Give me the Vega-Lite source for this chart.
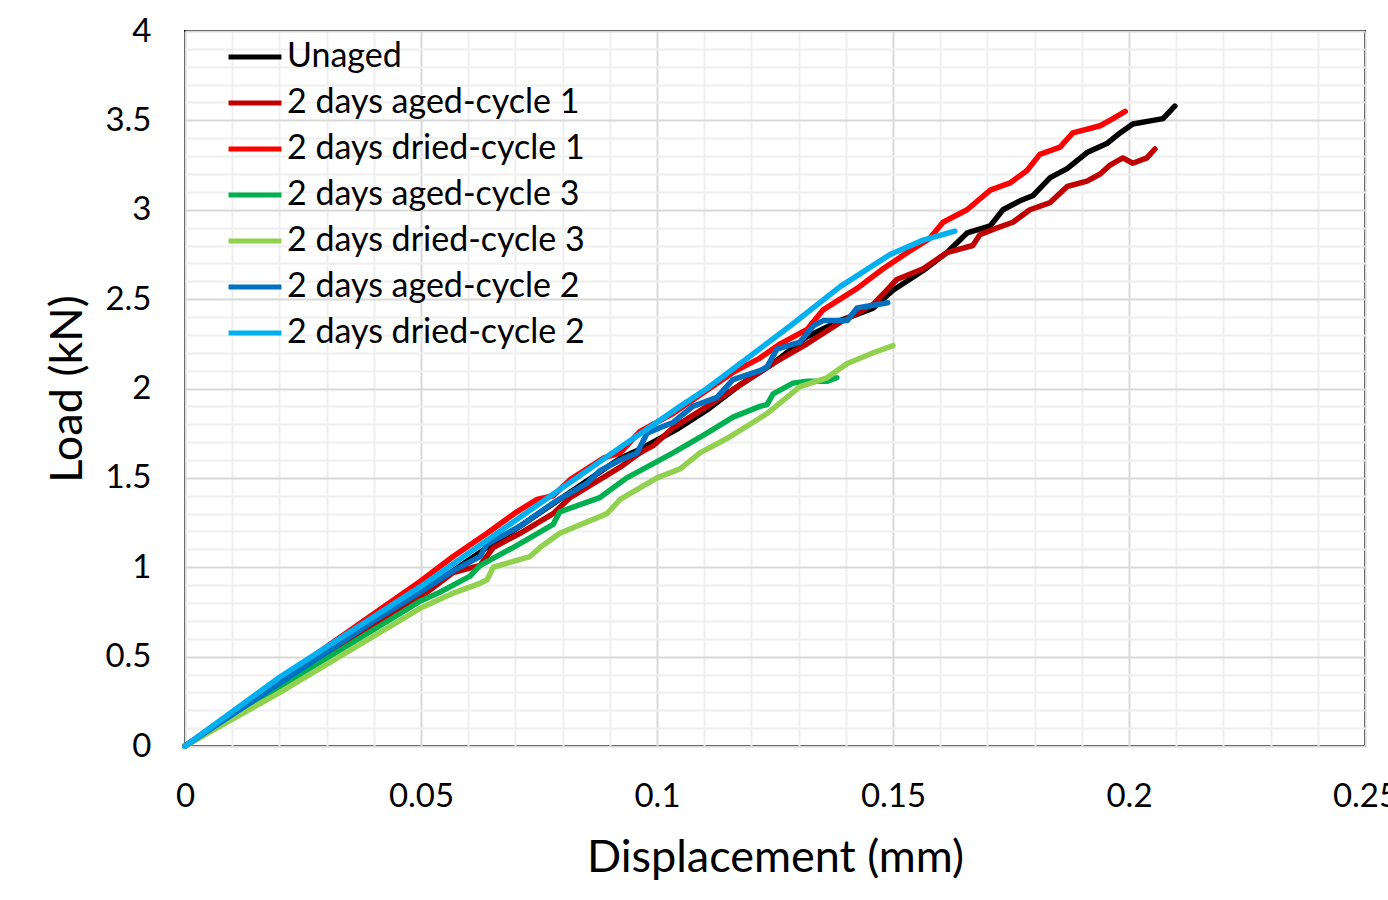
{
  "$schema": "https://vega.github.io/schema/vega-lite/v6.json",
  "width": 1180,
  "height": 715,
  "autosize": {"type": "none"},
  "padding": {"left": 185, "top": 31, "right": 23, "bottom": 154},
  "background": "white",
  "config": {
    "view": {"stroke": "#000000", "strokeWidth": 2},
    "font": "Lato",
    "axis": {"labelFont": "Lato", "titleFont": "Lato", "labelColor": "#000", "titleColor": "#000", "titleFontWeight": "normal"},
    "legend": {"labelFont": "Lato"}
  },
  "data": {"values": [
    {"series":"Unaged","disp":0,"load":0},{"series":"Unaged","disp":0.040,"load":0.69},{"series":"Unaged","disp":0.0498,"load":0.86},{"series":"Unaged","disp":0.0568,"load":0.98},{"series":"Unaged","disp":0.0640,"load":1.11},{"series":"Unaged","disp":0.0710,"load":1.23},{"series":"Unaged","disp":0.0816,"load":1.42},{"series":"Unaged","disp":0.0922,"load":1.61},{"series":"Unaged","disp":0.0964,"load":1.66},{"series":"Unaged","disp":0.1041,"load":1.77},{"series":"Unaged","disp":0.1106,"load":1.88},{"series":"Unaged","disp":0.1176,"load":2.02},{"series":"Unaged","disp":0.1246,"load":2.14},{"series":"Unaged","disp":0.1318,"load":2.29},{"series":"Unaged","disp":0.1388,"load":2.38},{"series":"Unaged","disp":0.1458,"load":2.45},{"series":"Unaged","disp":0.1500,"load":2.55},{"series":"Unaged","disp":0.1564,"load":2.66},{"series":"Unaged","disp":0.1614,"load":2.76},{"series":"Unaged","disp":0.1657,"load":2.87},{"series":"Unaged","disp":0.1706,"load":2.91},{"series":"Unaged","disp":0.1733,"load":3.00},{"series":"Unaged","disp":0.1769,"load":3.05},{"series":"Unaged","disp":0.1797,"load":3.08},{"series":"Unaged","disp":0.1833,"load":3.18},{"series":"Unaged","disp":0.1869,"load":3.23},{"series":"Unaged","disp":0.1911,"load":3.32},{"series":"Unaged","disp":0.1953,"load":3.37},{"series":"Unaged","disp":0.1981,"load":3.43},{"series":"Unaged","disp":0.2008,"load":3.48},{"series":"Unaged","disp":0.2051,"load":3.50},{"series":"Unaged","disp":0.2072,"load":3.51},{"series":"Unaged","disp":0.2097,"load":3.58},

    {"series":"2 days aged-cycle 1","disp":0,"load":0},{"series":"2 days aged-cycle 1","disp":0.040,"load":0.67},{"series":"2 days aged-cycle 1","disp":0.0498,"load":0.83},{"series":"2 days aged-cycle 1","disp":0.0568,"load":0.97},{"series":"2 days aged-cycle 1","disp":0.0625,"load":1.01},{"series":"2 days aged-cycle 1","disp":0.0653,"load":1.11},{"series":"2 days aged-cycle 1","disp":0.0710,"load":1.19},{"series":"2 days aged-cycle 1","disp":0.0780,"load":1.30},{"series":"2 days aged-cycle 1","disp":0.0816,"load":1.39},{"series":"2 days aged-cycle 1","disp":0.0922,"load":1.56},{"series":"2 days aged-cycle 1","disp":0.0964,"load":1.64},{"series":"2 days aged-cycle 1","disp":0.0992,"load":1.68},{"series":"2 days aged-cycle 1","disp":0.1034,"load":1.78},{"series":"2 days aged-cycle 1","disp":0.1106,"load":1.90},{"series":"2 days aged-cycle 1","disp":0.1176,"load":2.02},{"series":"2 days aged-cycle 1","disp":0.1246,"load":2.14},{"series":"2 days aged-cycle 1","disp":0.1318,"load":2.25},{"series":"2 days aged-cycle 1","disp":0.1388,"load":2.37},{"series":"2 days aged-cycle 1","disp":0.1458,"load":2.47},{"series":"2 days aged-cycle 1","disp":0.1494,"load":2.57},{"series":"2 days aged-cycle 1","disp":0.1508,"load":2.61},{"series":"2 days aged-cycle 1","disp":0.1564,"load":2.67},{"series":"2 days aged-cycle 1","disp":0.1614,"load":2.76},{"series":"2 days aged-cycle 1","disp":0.1669,"load":2.80},{"series":"2 days aged-cycle 1","disp":0.1684,"load":2.86},{"series":"2 days aged-cycle 1","disp":0.1712,"load":2.89},{"series":"2 days aged-cycle 1","disp":0.1754,"load":2.93},{"series":"2 days aged-cycle 1","disp":0.1790,"load":3.00},{"series":"2 days aged-cycle 1","disp":0.1833,"load":3.04},{"series":"2 days aged-cycle 1","disp":0.1869,"load":3.13},{"series":"2 days aged-cycle 1","disp":0.1911,"load":3.16},{"series":"2 days aged-cycle 1","disp":0.1939,"load":3.20},{"series":"2 days aged-cycle 1","disp":0.1960,"load":3.25},{"series":"2 days aged-cycle 1","disp":0.1987,"load":3.29},{"series":"2 days aged-cycle 1","disp":0.2008,"load":3.26},{"series":"2 days aged-cycle 1","disp":0.2038,"load":3.29},{"series":"2 days aged-cycle 1","disp":0.2055,"load":3.34},

    {"series":"2 days dried-cycle 1","disp":0,"load":0},{"series":"2 days dried-cycle 1","disp":0.040,"load":0.74},{"series":"2 days dried-cycle 1","disp":0.0498,"load":0.92},{"series":"2 days dried-cycle 1","disp":0.0568,"load":1.06},{"series":"2 days dried-cycle 1","disp":0.0640,"load":1.19},{"series":"2 days dried-cycle 1","disp":0.0703,"load":1.31},{"series":"2 days dried-cycle 1","disp":0.0746,"load":1.38},{"series":"2 days dried-cycle 1","disp":0.0780,"load":1.40},{"series":"2 days dried-cycle 1","disp":0.0816,"load":1.49},{"series":"2 days dried-cycle 1","disp":0.0886,"load":1.61},{"series":"2 days dried-cycle 1","disp":0.0922,"load":1.64},{"series":"2 days dried-cycle 1","disp":0.0964,"load":1.76},{"series":"2 days dried-cycle 1","disp":0.1034,"load":1.86},{"series":"2 days dried-cycle 1","disp":0.1106,"load":1.99},{"series":"2 days dried-cycle 1","disp":0.1161,"load":2.09},{"series":"2 days dried-cycle 1","disp":0.1218,"load":2.17},{"series":"2 days dried-cycle 1","disp":0.1261,"load":2.25},{"series":"2 days dried-cycle 1","disp":0.1318,"load":2.33},{"series":"2 days dried-cycle 1","disp":0.1352,"load":2.44},{"series":"2 days dried-cycle 1","disp":0.1424,"load":2.56},{"series":"2 days dried-cycle 1","disp":0.1479,"load":2.67},{"series":"2 days dried-cycle 1","disp":0.1530,"load":2.76},{"series":"2 days dried-cycle 1","disp":0.1578,"load":2.84},{"series":"2 days dried-cycle 1","disp":0.1606,"load":2.93},{"series":"2 days dried-cycle 1","disp":0.1657,"load":3.00},{"series":"2 days dried-cycle 1","disp":0.1706,"load":3.11},{"series":"2 days dried-cycle 1","disp":0.1748,"load":3.15},{"series":"2 days dried-cycle 1","disp":0.1784,"load":3.22},{"series":"2 days dried-cycle 1","disp":0.1811,"load":3.31},{"series":"2 days dried-cycle 1","disp":0.1854,"load":3.35},{"series":"2 days dried-cycle 1","disp":0.1881,"load":3.43},{"series":"2 days dried-cycle 1","disp":0.1939,"load":3.47},{"series":"2 days dried-cycle 1","disp":0.1966,"load":3.51},{"series":"2 days dried-cycle 1","disp":0.1992,"load":3.55},

    {"series":"2 days aged-cycle 3","disp":0,"load":0},{"series":"2 days aged-cycle 3","disp":0.0201,"load":0.33},{"series":"2 days aged-cycle 3","disp":0.0449,"load":0.73},{"series":"2 days aged-cycle 3","disp":0.0498,"load":0.81},{"series":"2 days aged-cycle 3","disp":0.0540,"load":0.86},{"series":"2 days aged-cycle 3","disp":0.0604,"load":0.95},{"series":"2 days aged-cycle 3","disp":0.0625,"load":1.01},{"series":"2 days aged-cycle 3","disp":0.0695,"load":1.11},{"series":"2 days aged-cycle 3","disp":0.0780,"load":1.24},{"series":"2 days aged-cycle 3","disp":0.0794,"load":1.31},{"series":"2 days aged-cycle 3","disp":0.0879,"load":1.39},{"series":"2 days aged-cycle 3","disp":0.0936,"load":1.50},{"series":"2 days aged-cycle 3","disp":0.0992,"load":1.58},{"series":"2 days aged-cycle 3","disp":0.1034,"load":1.64},{"series":"2 days aged-cycle 3","disp":0.1106,"load":1.75},{"series":"2 days aged-cycle 3","disp":0.1161,"load":1.84},{"series":"2 days aged-cycle 3","disp":0.1218,"load":1.90},{"series":"2 days aged-cycle 3","disp":0.1233,"load":1.91},{"series":"2 days aged-cycle 3","disp":0.1246,"load":1.97},{"series":"2 days aged-cycle 3","disp":0.1288,"load":2.03},{"series":"2 days aged-cycle 3","disp":0.1318,"load":2.04},{"series":"2 days aged-cycle 3","disp":0.1360,"load":2.04},{"series":"2 days aged-cycle 3","disp":0.1381,"load":2.06},

    {"series":"2 days dried-cycle 3","disp":0,"load":0},{"series":"2 days dried-cycle 3","disp":0.0201,"load":0.30},{"series":"2 days dried-cycle 3","disp":0.0498,"load":0.77},{"series":"2 days dried-cycle 3","disp":0.0568,"load":0.855},{"series":"2 days dried-cycle 3","disp":0.0625,"load":0.91},{"series":"2 days dried-cycle 3","disp":0.0640,"load":0.93},{"series":"2 days dried-cycle 3","disp":0.0653,"load":1.00},{"series":"2 days dried-cycle 3","disp":0.0731,"load":1.06},{"series":"2 days dried-cycle 3","disp":0.0752,"load":1.11},{"series":"2 days dried-cycle 3","disp":0.0794,"load":1.19},{"series":"2 days dried-cycle 3","disp":0.0894,"load":1.30},{"series":"2 days dried-cycle 3","disp":0.0922,"load":1.38},{"series":"2 days dried-cycle 3","disp":0.1000,"load":1.50},{"series":"2 days dried-cycle 3","disp":0.1049,"load":1.55},{"series":"2 days dried-cycle 3","disp":0.1091,"load":1.64},{"series":"2 days dried-cycle 3","disp":0.1148,"load":1.72},{"series":"2 days dried-cycle 3","disp":0.1203,"load":1.81},{"series":"2 days dried-cycle 3","disp":0.1233,"load":1.86},{"series":"2 days dried-cycle 3","disp":0.1275,"load":1.95},{"series":"2 days dried-cycle 3","disp":0.1303,"load":2.01},{"series":"2 days dried-cycle 3","disp":0.1360,"load":2.06},{"series":"2 days dried-cycle 3","disp":0.1403,"load":2.14},{"series":"2 days dried-cycle 3","disp":0.1458,"load":2.20},{"series":"2 days dried-cycle 3","disp":0.1500,"load":2.24},

    {"series":"2 days aged-cycle 2","disp":0,"load":0},{"series":"2 days aged-cycle 2","disp":0.040,"load":0.70},{"series":"2 days aged-cycle 2","disp":0.0498,"load":0.86},{"series":"2 days aged-cycle 2","disp":0.0568,"load":0.98},{"series":"2 days aged-cycle 2","disp":0.0625,"load":1.06},{"series":"2 days aged-cycle 2","disp":0.0640,"load":1.13},{"series":"2 days aged-cycle 2","disp":0.0710,"load":1.23},{"series":"2 days aged-cycle 2","disp":0.0780,"load":1.36},{"series":"2 days aged-cycle 2","disp":0.0852,"load":1.47},{"series":"2 days aged-cycle 2","disp":0.0879,"load":1.54},{"series":"2 days aged-cycle 2","disp":0.0922,"load":1.60},{"series":"2 days aged-cycle 2","disp":0.0958,"load":1.64},{"series":"2 days aged-cycle 2","disp":0.0979,"load":1.75},{"series":"2 days aged-cycle 2","disp":0.1006,"load":1.78},{"series":"2 days aged-cycle 2","disp":0.1034,"load":1.81},{"series":"2 days aged-cycle 2","disp":0.1076,"load":1.90},{"series":"2 days aged-cycle 2","disp":0.1127,"load":1.95},{"series":"2 days aged-cycle 2","disp":0.1161,"load":2.05},{"series":"2 days aged-cycle 2","disp":0.1218,"load":2.10},{"series":"2 days aged-cycle 2","disp":0.1233,"load":2.12},{"series":"2 days aged-cycle 2","disp":0.1254,"load":2.22},{"series":"2 days aged-cycle 2","disp":0.1303,"load":2.26},{"series":"2 days aged-cycle 2","disp":0.1331,"load":2.35},{"series":"2 days aged-cycle 2","disp":0.1352,"load":2.38},{"series":"2 days aged-cycle 2","disp":0.1403,"load":2.38},{"series":"2 days aged-cycle 2","disp":0.1424,"load":2.45},{"series":"2 days aged-cycle 2","disp":0.1489,"load":2.48},

    {"series":"2 days dried-cycle 2","disp":0,"load":0},{"series":"2 days dried-cycle 2","disp":0.0201,"load":0.386},{"series":"2 days dried-cycle 2","disp":0.0498,"load":0.89},{"series":"2 days dried-cycle 2","disp":0.0710,"load":1.28},{"series":"2 days dried-cycle 2","disp":0.0922,"load":1.67},{"series":"2 days dried-cycle 2","disp":0.1049,"load":1.90},{"series":"2 days dried-cycle 2","disp":0.1106,"load":2.00},{"series":"2 days dried-cycle 2","disp":0.1282,"load":2.35},{"series":"2 days dried-cycle 2","disp":0.1388,"load":2.57},{"series":"2 days dried-cycle 2","disp":0.1494,"load":2.75},{"series":"2 days dried-cycle 2","disp":0.1564,"load":2.83},{"series":"2 days dried-cycle 2","disp":0.1631,"load":2.88}
  ]},
  "resolve": {"axis": {"x": "independent", "y": "independent"}},
  "layer": [
    {
      "mark": {"type": "point", "opacity": 0},
      "encoding": {
        "x": {"field": "disp", "type": "quantitative", "scale": {"domain": [0, 0.25], "nice": false, "zero": true},
          "axis": {"orient": "bottom", "values": [0.01,0.02,0.03,0.04,0.06,0.07,0.08,0.09,0.11,0.12,0.13,0.14,0.16,0.17,0.18,0.19,0.21,0.22,0.23,0.24],
            "grid": true, "gridColor": "#efefef", "gridWidth": 2, "labels": false, "ticks": false, "domain": false, "title": null}},
        "y": {"field": "load", "type": "quantitative", "scale": {"domain": [0, 4], "nice": false},
          "axis": {"orient": "left", "values": [0.1,0.2,0.3,0.4,0.6,0.7,0.8,0.9,1.1,1.2,1.3,1.4,1.6,1.7,1.8,1.9,2.1,2.2,2.3,2.4,2.6,2.7,2.8,2.9,3.1,3.2,3.3,3.4,3.6,3.7,3.8,3.9],
            "grid": true, "gridColor": "#efefef", "gridWidth": 2, "labels": false, "ticks": false, "domain": false, "title": null}}
      }
    },
    {
      "mark": {"type": "line", "strokeWidth": 5.5, "strokeCap": "round", "strokeJoin": "round"},
      "encoding": {
        "x": {"field": "disp", "type": "quantitative", "scale": {"domain": [0, 0.25], "nice": false},
          "axis": {"orient": "bottom", "values": [0, 0.05, 0.1, 0.15, 0.2, 0.25], "format": "~g", "grid": true, "gridColor": "#d9d9d9", "gridWidth": 2,
            "ticks": false, "domain": false, "labelFontSize": 33, "labelPadding": 34, "labelFlush": false,
            "title": "Displacement (mm)", "titleFontSize": 45, "titlePadding": 22}},
        "y": {"field": "load", "type": "quantitative", "scale": {"domain": [0, 4], "nice": false},
          "axis": {"orient": "left", "values": [0, 0.5, 1, 1.5, 2, 2.5, 3, 3.5, 4], "format": "~g", "grid": true, "gridColor": "#d9d9d9", "gridWidth": 2,
            "ticks": false, "domain": false, "labelFontSize": 33, "labelPadding": 34, "labelFlush": false,
            "title": "Load (kN)", "titleFontSize": 45, "titlePadding": 14}},
        "color": {"field": "series", "type": "nominal", "sort": null,
          "scale": {"domain": ["Unaged", "2 days aged-cycle 1", "2 days dried-cycle 1", "2 days aged-cycle 3", "2 days dried-cycle 3", "2 days aged-cycle 2", "2 days dried-cycle 2"],
            "range": ["#000000", "#C00000", "#FF0000", "#00B050", "#92D050", "#0070C0", "#00B0F0"]},
          "legend": {"orient": "none", "legendX": 41, "legendY": -3, "title": null, "symbolType": "stroke", "symbolStrokeWidth": 5, "symbolSize": 2800,
            "labelFontSize": 34, "labelOffset": 3, "labelLimit": 600, "rowPadding": -6, "padding": 0, "labelColor": "#000", "fillColor": null, "strokeColor": null}}
      }
    }
  ]
}
